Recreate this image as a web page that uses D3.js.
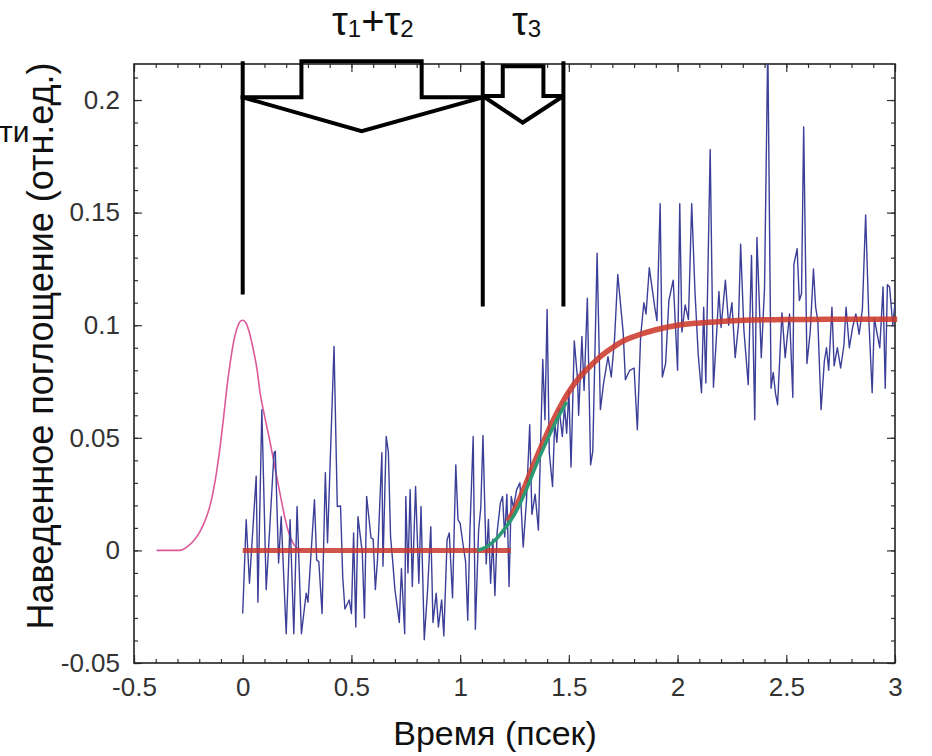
<!DOCTYPE html>
<html>
<head>
<meta charset="utf-8">
<script src="https://cdn.jsdelivr.net/npm/d3@7"></script>
<style>
body { margin: 0; background: #fff; }
</style>
</head>
<body>
<div id="chart"></div>
<script>
// measured absorption (blue noisy trace), time in ps
var blueT = [0.0, 0.016, 0.031, 0.062, 0.07, 0.088, 0.108, 0.144, 0.15, 0.165, 0.177, 0.2, 0.218, 0.235, 0.25, 0.27, 0.292, 0.3, 0.33, 0.34,
    0.35, 0.365, 0.38, 0.39, 0.42, 0.435, 0.45, 0.46, 0.47, 0.49, 0.5, 0.51, 0.52, 0.53, 0.55, 0.56, 0.57, 0.59, 0.6, 0.61,
    0.62, 0.64, 0.645, 0.66, 0.67, 0.68, 0.69, 0.7, 0.72, 0.73, 0.745, 0.75, 0.76, 0.77, 0.78, 0.795, 0.81, 0.82, 0.835, 0.85,
    0.865, 0.875, 0.89, 0.9, 0.915, 0.925, 0.94, 0.95, 0.965, 0.98, 0.99, 1.0, 1.015, 1.025, 1.035, 1.045, 1.06, 1.07, 1.085, 1.095,
    1.105, 1.12, 1.13, 1.14, 1.15, 1.16, 1.17, 1.185, 1.195, 1.205, 1.215, 1.225, 1.235, 1.245, 1.26, 1.275, 1.29, 1.305, 1.32, 1.33,
    1.345, 1.36, 1.38, 1.39, 1.4, 1.41, 1.425, 1.435, 1.445, 1.455, 1.47, 1.48, 1.49, 1.5, 1.51, 1.525, 1.54, 1.545, 1.56, 1.57,
    1.585, 1.6, 1.61, 1.63, 1.645, 1.66, 1.68, 1.695, 1.71, 1.725, 1.75, 1.76, 1.78, 1.8, 1.815, 1.83, 1.845, 1.855, 1.87, 1.885,
    1.895, 1.905, 1.92, 1.93, 1.945, 1.96, 1.98, 2.0, 2.01, 2.02, 2.035, 2.05, 2.065, 2.08, 2.095, 2.11, 2.12, 2.13, 2.15, 2.165,
    2.18, 2.19, 2.2, 2.22, 2.235, 2.25, 2.265, 2.28, 2.29, 2.305, 2.325, 2.34, 2.355, 2.365, 2.385, 2.4, 2.415, 2.43, 2.44, 2.45,
    2.46, 2.48, 2.495, 2.515, 2.53, 2.535, 2.55, 2.56, 2.57, 2.58, 2.595, 2.61, 2.625, 2.635, 2.645, 2.66, 2.675, 2.685, 2.695, 2.71,
    2.72, 2.735, 2.75, 2.765, 2.775, 2.79, 2.805, 2.82, 2.835, 2.85, 2.865, 2.88, 2.895, 2.905, 2.92, 2.93, 2.945, 2.955, 2.965, 2.975,
    2.99, 3.0];
var blueV = [-0.028, 0.0136, -0.0146, 0.033, -0.023, 0.0625, -0.0174, 0.0434, 0.044, -0.0056, 0.015, -0.037, 0.0136, -0.037, 0.0195, -0.037, -0.019, -0.023, 0.0225, -0.0042,
    -0.005, -0.028, 0.0345, 0.0034, 0.0906, 0.0195, 0.0197, -0.0118, -0.026, -0.022, -0.028, 0.0077, -0.034, 0.015, -0.001, -0.03, 0.024, 0.0056, 0.005, -0.0174,
    -0.004, 0.0434, -0.007, 0.0506, 0.0434, 0.006, -0.005, -0.0174, -0.032, -0.008, -0.037, 0.024, -0.01, 0.027, -0.016, 0.0284, -0.0146, 0.0195, -0.0397, -0.018,
    0.0105, -0.032, -0.019, -0.034, -0.022, -0.038, 0.0048, 0.0078, -0.021, 0.038, 0.0137, 0.012, 0.0015, -0.005, -0.031, 0.009, 0.0506, -0.035, 0.009, 0.019,
    0.051, -0.006, 0.0137, -0.0146, 0.005, -0.02, 0.008, 0.021, 0.024, 0.006, 0.025, -0.016, 0.024, 0.019, 0.027, 0.03, 0.0015, 0.022, 0.0558, 0.016,
    0.025, 0.009, 0.0848, 0.058, 0.107, 0.0434, 0.0284, 0.057, 0.048, 0.063, 0.0506, 0.064, 0.052, 0.071, 0.037, 0.093, 0.076, 0.06, 0.095, 0.071,
    0.112, 0.038, 0.044, 0.132, 0.0625, 0.0744, 0.086, 0.077, 0.0936, 0.1225, 0.0966, 0.0758, 0.08, 0.081, 0.0536, 0.095, 0.11, 0.105, 0.1255, 0.115,
    0.108, 0.102, 0.154, 0.077, 0.083, 0.111, 0.12, 0.08, 0.154, 0.097, 0.109, 0.1025, 0.154, 0.115, 0.087, 0.07, 0.108, 0.0744, 0.178, 0.0725,
    0.097, 0.115, 0.099, 0.12, 0.1, 0.11, 0.0856, 0.1, 0.136, 0.098, 0.0736, 0.131, 0.058, 0.139, 0.0856, 0.1167, 0.225, 0.072, 0.079, 0.07,
    0.0647, 0.1055, 0.0856, 0.105, 0.068, 0.127, 0.134, 0.111, 0.114, 0.188, 0.083, 0.097, 0.125, 0.108, 0.102, 0.0625, 0.084, 0.09, 0.08, 0.108,
    0.082, 0.09, 0.081, 0.091, 0.108, 0.09, 0.099, 0.105, 0.096, 0.107, 0.149, 0.102, 0.07, 0.103, 0.095, 0.09, 0.117, 0.072, 0.118, 0.117,
    0.1, 0.11];

// excitation pulse (pink)
var pulseT = [-0.396, -0.29, -0.25, -0.22, -0.196, -0.17, -0.15, -0.125, -0.104, -0.088, -0.074, -0.058, -0.043, -0.025, -0.01, 0.0, 0.015, 0.03, 0.049, 0.065,
    0.08, 0.1, 0.126, 0.15, 0.172, 0.195, 0.218, 0.24, 0.27];
var pulseV = [0, 0, 0.002, 0.005, 0.0085, 0.014, 0.02, 0.032, 0.046, 0.059, 0.0714, 0.083, 0.092, 0.099, 0.1018, 0.1022, 0.101, 0.097, 0.089, 0.081,
    0.07, 0.06, 0.048, 0.036, 0.025, 0.014, 0.006, 0.002, 0];

// fit curves
var flatT = [0, 1.233];
var flatV = [0, 0];
var greenT = [1.08, 1.12, 1.16, 1.2, 1.25, 1.3, 1.35, 1.4, 1.45, 1.49];
var greenV = [0, 0.0015, 0.0045, 0.009, 0.016, 0.026, 0.038, 0.049, 0.059, 0.066];
var redT = [1.22, 1.25, 1.3, 1.35, 1.4, 1.45, 1.5, 1.55, 1.6, 1.65, 1.7, 1.75, 1.8, 1.9, 2.0, 2.1, 2.2, 2.3, 2.5, 2.7, 3.01];
var redV = [0.013, 0.018, 0.029, 0.041, 0.052, 0.062, 0.0705, 0.077, 0.082, 0.0865, 0.09, 0.093, 0.095, 0.098, 0.1, 0.101, 0.1017, 0.1022, 0.1025, 0.1027, 0.1027];

// tau brackets (black)
var markT = [0, 1.104, 1.475];
var markBottom = [0.1136, 0.1083, 0.1083];
var markTop = 0.2172;
var bracket12 = [[-0.01, 0.2012], [0.27, 0.2012], [0.27, 0.2172], [0.823, 0.2172], [0.823, 0.2012], [1.104, 0.2012]];
var vee12 = [[0, 0.2012], [0.547, 0.1862], [1.104, 0.2012]];
var bracket3 = [[1.104, 0.2018], [1.196, 0.2018], [1.196, 0.215], [1.383, 0.215], [1.383, 0.2018], [1.475, 0.2018]];
var vee3 = [[1.104, 0.2018], [1.288, 0.19], [1.475, 0.2018]];

var xTicks = [-0.5, 0, 0.5, 1, 1.5, 2, 2.5, 3];
var xTickLabels = ["-0.5", "0", "0.5", "1", "1.5", "2", "2.5", "3"];
var yTicks = [-0.05, 0, 0.05, 0.1, 0.15, 0.2];
var yTickLabels = ["-0.05", "0", "0.05", "0.1", "0.15", "0.2"];

var w = 932, h = 756;
var padLeft = 134, padRight = 895, padTop = 64, padBottom = 663;

var xScale = d3.scaleLinear().domain([-0.5, 3]).range([padLeft, padRight]);
var yScale = d3.scaleLinear().domain([-0.05, 0.216]).range([padBottom, padTop]);

var svg = d3.select("#chart").append("svg").attr("width", w).attr("height", h)
    .attr("font-family", "'Liberation Sans', Arial, sans-serif");

svg.append("clipPath").attr("id", "clip").append("rect")
    .attr("x", padLeft).attr("y", padTop).attr("width", padRight - padLeft).attr("height", padBottom - padTop);

function zipPts(t, v) {
    return t.map(function (d, i) { return [d, v[i]]; });
}

var line = d3.line()
    .x(function (d) { return xScale(d[0]); })
    .y(function (d) { return yScale(d[1]); });

// minor ticks every 0.1 / 0.01, inward on all four sides
var xMinor = d3.range(-5, 31).map(function (d) { return d / 10; });
var yMinor = d3.range(-5, 22).map(function (d) { return d / 100; });

function axisStyle(g) {
    g.select(".domain").remove();
    g.selectAll("line").attr("stroke", "#333").attr("stroke-width", 1.2);
}

svg.append("g").attr("transform", "translate(0," + padBottom + ")")
    .call(d3.axisBottom(xScale).tickValues(xMinor).tickSize(-4).tickFormat(""))
    .call(axisStyle);
svg.append("g").attr("transform", "translate(0," + padTop + ")")
    .call(d3.axisTop(xScale).tickValues(xMinor).tickSize(-4).tickFormat(""))
    .call(axisStyle);
svg.append("g").attr("transform", "translate(" + padLeft + ",0)")
    .call(d3.axisLeft(yScale).tickValues(yMinor).tickSize(-4).tickFormat(""))
    .call(axisStyle);
svg.append("g").attr("transform", "translate(" + padRight + ",0)")
    .call(d3.axisRight(yScale).tickValues(yMinor).tickSize(-4).tickFormat(""))
    .call(axisStyle);

// major ticks with labels
var xAxis = svg.append("g").attr("transform", "translate(0," + padBottom + ")")
    .call(d3.axisBottom(xScale).tickValues(xTicks).tickSize(-8).tickPadding(15)
        .tickFormat(function (d, i) { return xTickLabels[i]; }))
    .call(axisStyle);
xAxis.selectAll("text").attr("font-size", "26px").attr("fill", "#333");

var yAxis = svg.append("g").attr("transform", "translate(" + padLeft + ",0)")
    .call(d3.axisLeft(yScale).tickValues(yTicks).tickSize(-8).tickPadding(14)
        .tickFormat(function (d, i) { return yTickLabels[i]; }))
    .call(axisStyle);
yAxis.selectAll("text").attr("font-size", "26px").attr("fill", "#333");

svg.append("g").attr("transform", "translate(0," + padTop + ")")
    .call(d3.axisTop(xScale).tickValues(xTicks).tickSize(-8).tickFormat(""))
    .call(axisStyle);
svg.append("g").attr("transform", "translate(" + padRight + ",0)")
    .call(d3.axisRight(yScale).tickValues(yTicks).tickSize(-8).tickFormat(""))
    .call(axisStyle);

// frame
svg.append("rect")
    .attr("x", padLeft).attr("y", padTop).attr("width", padRight - padLeft).attr("height", padBottom - padTop)
    .attr("fill", "none").attr("stroke", "#222").attr("stroke-width", 1.6);

// pulse
svg.append("path").datum(zipPts(pulseT, pulseV))
    .attr("d", line.curve(d3.curveMonotoneX))
    .attr("fill", "none").attr("stroke", "#dd5a9a").attr("stroke-width", 1.6);

// data trace
line.curve(d3.curveLinear);
svg.append("path").datum(zipPts(blueT, blueV))
    .attr("clip-path", "url(#clip)")
    .attr("d", line)
    .attr("fill", "none").attr("stroke", "#3c3f98").attr("stroke-width", 1.4)
    .attr("stroke-linejoin", "round");

// fits
svg.append("path").datum(zipPts(flatT, flatV))
    .attr("d", line)
    .attr("fill", "none").attr("stroke", "#c8372b").attr("stroke-opacity", 0.85).attr("stroke-width", 5);
svg.append("path").datum(zipPts(redT, redV))
    .attr("d", line.curve(d3.curveMonotoneX))
    .attr("fill", "none").attr("stroke", "#cc3b2b").attr("stroke-opacity", 0.88).attr("stroke-width", 5.5);
svg.append("path").datum(zipPts(greenT, greenV))
    .attr("d", line.curve(d3.curveMonotoneX))
    .attr("fill", "none").attr("stroke", "#2b9a72").attr("stroke-width", 3.5);
line.curve(d3.curveLinear);

// tau markers
svg.selectAll(".mark").data(markT).enter().append("line")
    .attr("x1", function (d) { return xScale(d); })
    .attr("x2", function (d) { return xScale(d); })
    .attr("y1", yScale(markTop))
    .attr("y2", function (d, i) { return yScale(markBottom[i]); })
    .attr("stroke", "#000").attr("stroke-width", 4);

[bracket12, vee12, bracket3, vee3].forEach(function (pts) {
    svg.append("path").datum(pts)
        .attr("d", line)
        .attr("fill", "none").attr("stroke", "#000").attr("stroke-width", 4)
        .attr("stroke-linejoin", "miter");
});

// tau labels
var t12 = svg.append("text").attr("x", 332).attr("y", 35).attr("font-size", "40px").attr("fill", "#111");
t12.append("tspan").text("τ");
t12.append("tspan").attr("font-size", "24px").attr("dy", 2).text("1");
t12.append("tspan").attr("dy", -2).text("+τ");
t12.append("tspan").attr("font-size", "24px").attr("dy", 2).text("2");

var t3 = svg.append("text").attr("x", 512).attr("y", 35).attr("font-size", "40px").attr("fill", "#111");
t3.append("tspan").text("τ");
t3.append("tspan").attr("font-size", "24px").attr("dy", 2).text("3");

// axis titles
svg.append("text")
    .attr("x", 495).attr("y", 745)
    .attr("text-anchor", "middle").attr("font-size", "34px").attr("fill", "#111")
    .text("Время (псек)");

svg.append("text")
    .attr("transform", "translate(53,346) rotate(-90)")
    .attr("text-anchor", "middle").attr("font-size", "36px").attr("fill", "#111")
    .text("Наведенное поглощение (отн.ед.)");

// clipped remainder of a neighbouring label
svg.append("text").attr("x", -1).attr("y", 142).attr("font-size", "30px").attr("fill", "#111").text("ти");
</script>
</body>
</html>
